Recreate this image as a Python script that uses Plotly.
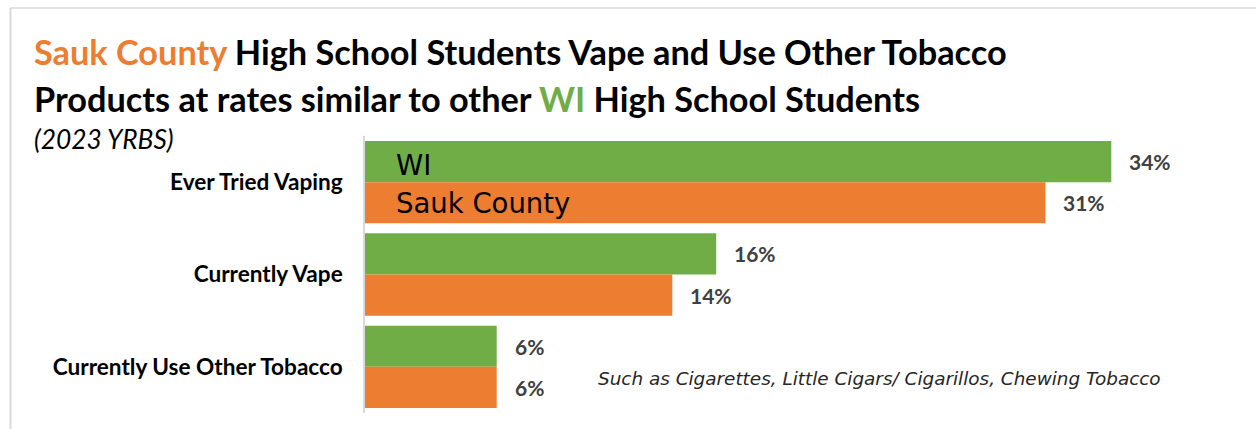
import plotly.graph_objects as go

# --- data -------------------------------------------------------------
categories = ["Ever Tried Vaping", "Currently Vape", "Currently Use Other Tobacco"]
wi_values = [34, 16, 6]
sauk_values = [31, 14, 6]
series_names = ["WI", "Sauk County"]

GREEN = "#70AD47"
ORANGE = "#ED7D31"

# --- canvas geometry ---------------------------------------------------
W, H = 1256, 429
L, R, T, B = 365, 13, 136, 16
PLOT_W = W - L - R
PLOT_H = H - T - B
BARGAP = 0.108
BAR_HALF = PLOT_H / len(categories) * (1 - BARGAP) / 4  # offset of each bar centre


def px(x):
    return (x - L) / PLOT_W


def py(y):
    return (H - B - y) / PLOT_H


fig = go.Figure()
fig.add_trace(go.Bar(
    y=categories, x=wi_values, orientation="h", name=series_names[0],
    marker=dict(color=GREEN, line=dict(width=0)), hoverinfo="skip",
))
fig.add_trace(go.Bar(
    y=categories, x=sauk_values, orientation="h", name=series_names[1],
    marker=dict(color=ORANGE, line=dict(width=0)), hoverinfo="skip",
))

annotations = []

# value labels to the right of each bar
for cat, wv, sv in zip(categories, wi_values, sauk_values):
    for val, shift in ((wv, BAR_HALF), (sv, -BAR_HALF)):
        annotations.append(dict(
            x=val, y=cat, xref="x", yref="y", text=f"{val}%",
            showarrow=False, xanchor="left", yanchor="middle",
            xshift=16, yshift=shift,
            font=dict(family="Lato", size=21, weight="bold", color="#404040"),
        ))

# series names written inside the first pair of bars
for name, shift in zip(series_names, (BAR_HALF - 3, -BAR_HALF)):
    annotations.append(dict(
        x=0, y=categories[0], xref="x", yref="y", text=name,
        showarrow=False, xanchor="left", yanchor="middle",
        xshift=29, yshift=shift,
        font=dict(family="DejaVu Sans", size=27.5, color="#000000"),
    ))

# title block
title_font = dict(family="Lato", size=34.3, weight="bold", color="#000000")
annotations.append(dict(
    x=px(32), y=py(51), xref="paper", yref="paper", showarrow=False,
    xanchor="left", yanchor="middle", font=title_font,
    text=f"<span style='color:{ORANGE}'>Sauk County</span> High School Students Vape and Use Other Tobacco",
))
annotations.append(dict(
    x=px(32), y=py(98), xref="paper", yref="paper", showarrow=False,
    xanchor="left", yanchor="middle", font=title_font,
    text=f"Products at rates similar to other <span style='color:{GREEN}'>WI</span> High School Students",
))
annotations.append(dict(
    x=px(32), y=py(139), xref="paper", yref="paper", showarrow=False,
    xanchor="left", yanchor="middle", text="(2023 YRBS)",
    font=dict(family="Lato", size=26.3, style="italic", color="#000000"),
))

# footnote
annotations.append(dict(
    x=px(596), y=py(378), xref="paper", yref="paper", showarrow=False,
    xanchor="left", yanchor="middle",
    text="Such as Cigarettes, Little Cigars/ Cigarillos, Chewing Tobacco",
    font=dict(family="DejaVu Sans", size=18.4, weight=300, style="italic", color="#262626"),
))

# thin frame along top and left edges
shapes = [
    dict(type="line", xref="paper", yref="paper", x0=px(10), x1=px(W), y0=py(8), y1=py(8),
         line=dict(color="#d9d9d9", width=1.5)),
    dict(type="line", xref="paper", yref="paper", x0=px(10.5), x1=px(10.5), y0=py(8), y1=py(H),
         line=dict(color="#d9d9d9", width=2)),
]

fig.update_layout(
    width=W, height=H,
    margin=dict(l=L, r=R, t=T, b=B),
    paper_bgcolor="#ffffff", plot_bgcolor="#ffffff",
    barmode="group", bargap=BARGAP, bargroupgap=0,
    showlegend=False,
    annotations=annotations, shapes=shapes,
    xaxis=dict(range=[0, 40], visible=False, fixedrange=True),
    yaxis=dict(
        autorange="reversed", showline=True, linecolor="#d9d9d9", linewidth=1.5,
        ticks="", showgrid=False, zeroline=False, ticklabelstandoff=16,
        tickfont=dict(family="Lato", size=22.6, weight="bold", color="#000000"),
    ),
)

fig.write_html("out.html", config={"displayModeBar": False})
